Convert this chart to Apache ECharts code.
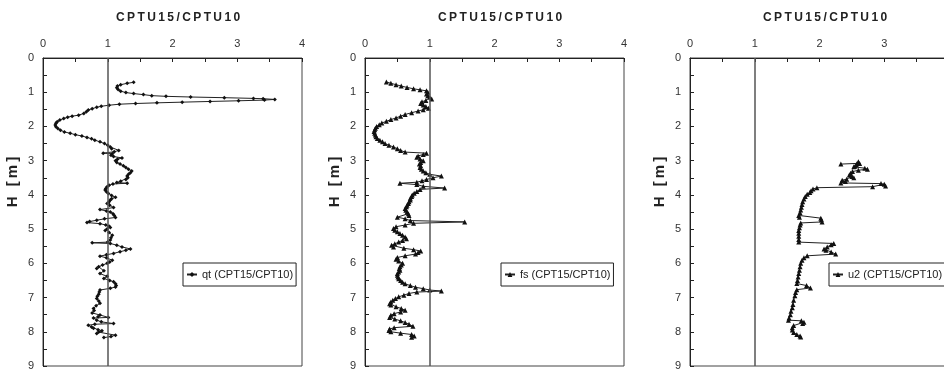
<!DOCTYPE html>
<html>
<head>
<meta charset="utf-8">
<script src="https://cdn.jsdelivr.net/npm/echarts@6/dist/echarts.min.js"></script>
<style>
html,body{margin:0;padding:0;background:#fff;}
#chart{width:944px;height:370px;}
</style>
</head>
<body>
<div id="chart"></div>
<script>
// depth [m] and ratio values
var qtDepth = [0.71,0.74,0.78,0.82,0.87,0.92,0.97,1.01,1.04,1.07,1.10,1.12,1.14,1.16,1.18,1.19,1.21,1.23,1.25,1.27,1.29,1.31,1.33,1.35,1.38,1.41,1.44,1.48,1.52,1.57,1.62,1.67,1.70,1.73,1.77,1.81,1.86,1.91,1.96,2.01,2.06,2.11,2.16,2.20,2.24,2.28,2.32,2.36,2.40,2.45,2.50,2.55,2.60,2.65,2.70,2.74,2.78,2.80,2.84,2.88,2.92,2.96,3.00,3.05,3.10,3.15,3.20,3.25,3.30,3.35,3.40,3.45,3.50,3.55,3.60,3.64,3.66,3.68,3.72,3.76,3.81,3.86,3.91,3.96,4.02,4.07,4.11,4.15,4.20,4.25,4.30,4.37,4.43,4.47,4.50,4.55,4.60,4.66,4.70,4.74,4.78,4.81,4.84,4.88,4.92,4.95,5.00,5.04,5.10,5.18,5.25,5.32,5.38,5.40,5.42,5.47,5.52,5.58,5.62,5.66,5.71,5.75,5.79,5.84,5.91,5.96,6.00,6.05,6.10,6.15,6.22,6.30,6.38,6.44,6.50,6.54,6.60,6.65,6.69,6.73,6.78,6.84,6.90,6.96,7.03,7.10,7.17,7.24,7.32,7.38,7.45,7.51,7.56,7.58,7.60,7.66,7.71,7.76,7.78,7.81,7.86,7.90,7.94,7.97,8.01,8.05,8.10,8.14,8.17];
var qtValue = [1.40,1.30,1.20,1.15,1.14,1.16,1.20,1.28,1.40,1.55,1.68,1.90,2.28,2.80,3.25,3.40,3.58,3.42,3.02,2.58,2.15,1.76,1.43,1.18,1.02,0.90,0.83,0.76,0.70,0.67,0.63,0.55,0.45,0.38,0.32,0.26,0.22,0.20,0.19,0.20,0.23,0.27,0.33,0.42,0.50,0.60,0.68,0.75,0.80,0.88,0.95,1.00,1.04,1.06,1.17,1.10,0.93,1.07,1.05,1.09,1.22,1.15,1.12,1.14,1.19,1.24,1.28,1.32,1.37,1.35,1.32,1.30,1.31,1.28,1.20,1.14,1.30,1.08,1.02,0.99,0.97,0.96,0.98,1.01,1.06,1.12,1.06,1.04,1.02,0.99,1.03,1.09,0.88,0.98,1.04,1.08,1.10,1.12,0.95,0.83,0.72,0.68,0.88,0.97,1.02,1.04,0.99,0.96,1.02,1.07,1.05,1.04,1.00,0.76,1.04,1.14,1.22,1.35,1.28,1.19,1.09,0.98,0.88,0.98,1.07,1.03,0.99,0.92,0.86,0.83,0.94,0.88,0.99,0.94,1.03,1.09,1.12,1.13,1.12,1.04,0.88,0.87,0.86,0.84,0.83,0.86,0.88,0.82,0.78,0.79,0.76,0.88,0.85,1.01,0.78,0.83,0.90,1.09,0.80,0.70,0.75,0.78,0.85,0.91,0.86,0.83,1.12,1.05,0.94];

var fsDepth = [0.70,0.74,0.78,0.82,0.86,0.90,0.93,0.96,1.00,1.05,1.10,1.15,1.20,1.24,1.28,1.33,1.37,1.42,1.47,1.51,1.55,1.60,1.65,1.70,1.75,1.80,1.85,1.90,1.95,2.00,2.05,2.10,2.15,2.20,2.25,2.30,2.35,2.40,2.45,2.50,2.55,2.60,2.65,2.70,2.75,2.78,2.82,2.86,2.90,2.95,3.00,3.05,3.10,3.15,3.20,3.25,3.30,3.35,3.40,3.45,3.50,3.55,3.59,3.63,3.66,3.70,3.75,3.80,3.84,3.90,3.95,4.00,4.05,4.10,4.15,4.20,4.25,4.30,4.35,4.40,4.45,4.50,4.55,4.60,4.65,4.70,4.75,4.79,4.83,4.88,4.93,4.98,5.03,5.08,5.13,5.18,5.23,5.28,5.33,5.38,5.43,5.47,5.52,5.56,5.60,5.64,5.68,5.73,5.78,5.83,5.88,5.93,6.00,6.05,6.10,6.15,6.20,6.25,6.30,6.35,6.40,6.45,6.50,6.55,6.60,6.65,6.70,6.74,6.78,6.81,6.84,6.88,6.93,6.98,7.03,7.08,7.13,7.18,7.22,7.27,7.32,7.37,7.42,7.47,7.52,7.58,7.63,7.68,7.73,7.78,7.84,7.88,7.92,7.96,8.00,8.04,8.08,8.12,8.16];
var fsValue = [0.33,0.40,0.48,0.56,0.65,0.75,0.85,0.95,0.97,0.95,0.97,1.00,1.03,0.94,0.88,0.86,0.90,0.94,0.98,0.90,0.82,0.72,0.62,0.55,0.48,0.40,0.33,0.26,0.22,0.18,0.16,0.15,0.14,0.15,0.16,0.17,0.19,0.23,0.27,0.31,0.37,0.44,0.50,0.55,0.62,0.95,0.90,0.82,0.80,0.85,0.90,0.86,0.84,0.86,0.85,0.87,0.90,0.94,1.00,1.18,1.05,0.95,0.88,0.80,0.54,0.80,0.90,1.23,0.85,0.80,0.76,0.73,0.72,0.70,0.70,0.68,0.67,0.65,0.64,0.62,0.63,0.65,0.67,0.68,0.50,0.62,0.70,1.54,0.75,0.62,0.48,0.44,0.46,0.50,0.54,0.58,0.62,0.64,0.58,0.52,0.46,0.41,0.44,0.60,0.75,0.86,0.82,0.78,0.62,0.50,0.48,0.52,0.58,0.56,0.54,0.53,0.54,0.52,0.50,0.50,0.51,0.52,0.55,0.58,0.62,0.70,0.78,0.90,1.00,1.18,0.80,0.68,0.60,0.52,0.47,0.43,0.40,0.38,0.40,0.48,0.56,0.62,0.55,0.45,0.40,0.38,0.46,0.55,0.62,0.68,0.74,0.45,0.38,0.37,0.40,0.55,0.72,0.76,0.72];

var u2Depth = [3.10,3.08,3.03,3.08,3.12,3.16,3.18,3.22,3.25,3.28,3.32,3.37,3.42,3.46,3.50,3.54,3.57,3.61,3.65,3.67,3.69,3.74,3.76,3.79,3.83,3.88,3.93,3.98,4.05,4.12,4.20,4.28,4.36,4.44,4.52,4.60,4.65,4.68,4.73,4.79,4.82,4.88,4.96,5.04,5.12,5.21,5.30,5.38,5.42,5.46,5.52,5.58,5.62,5.67,5.73,5.78,5.84,5.91,6.00,6.10,6.20,6.30,6.40,6.50,6.59,6.65,6.72,6.77,6.85,6.95,7.08,7.20,7.30,7.40,7.50,7.60,7.66,7.68,7.72,7.76,7.82,7.88,7.95,8.02,8.08,8.12,8.15];
var u2Value = [2.33,2.58,2.60,2.62,2.57,2.55,2.53,2.70,2.74,2.60,2.51,2.48,2.46,2.50,2.53,2.42,2.35,2.40,2.33,2.95,3.00,3.02,2.82,1.96,1.90,1.87,1.85,1.81,1.78,1.76,1.74,1.73,1.72,1.71,1.70,1.68,1.69,2.02,2.03,2.04,1.71,1.70,1.69,1.68,1.68,1.68,1.68,1.68,2.22,2.18,2.12,2.07,2.10,2.18,2.25,1.81,1.76,1.73,1.71,1.70,1.69,1.68,1.67,1.66,1.65,1.80,1.86,1.65,1.63,1.62,1.60,1.59,1.58,1.56,1.55,1.53,1.52,1.72,1.76,1.74,1.60,1.58,1.58,1.60,1.65,1.70,1.71];

var panelTitle = 'CPTU15/CPTU10';
var seriesNames = ['qt (CPT15/CPT10)', 'fs (CPT15/CPT10)', 'u2 (CPT15/CPT10)'];
var xTicks = [0, 1, 2, 3, 4];
var yTicks = [0, 1, 2, 3, 4, 5, 6, 7, 8, 9];
var yName = 'H [m]';

function pairs(vals, depths) {
  var out = [];
  for (var i = 0; i < vals.length; i++) out.push([vals[i], depths[i]]);
  return out;
}
function spaced(s, sp) { return s.split('').join(sp); }

var FONT = '"Liberation Sans", Arial, sans-serif';
var lefts = [43, 365, 690];
var gridW = 259;
var symbols = ['diamond', 'triangle', 'triangle'];
var symSizes = [4, 5, 5];
var datasets = [pairs(qtValue, qtDepth), pairs(fsValue, fsDepth), pairs(u2Value, u2Depth)];
var legendLefts = [183, 501, 829];

var option = {
  animation: false,
  backgroundColor: '#fff',
  title: [], grid: [], xAxis: [], yAxis: [], series: [], legend: []
};

for (var p = 0; p < 3; p++) {
  option.title.push({
    text: spaced(panelTitle, '\u2009'),
    left: lefts[p] + 73, top: 12, padding: 0,
    textStyle: {fontFamily: FONT, fontSize: 12, fontWeight: 'bold', color: '#222'}
  });
  option.grid.push({
    left: lefts[p], top: 58, width: gridW, height: 308,
    outerBoundsMode: 'none', containLabel: false,
    show: true, borderColor: '#444', borderWidth: 1, backgroundColor: 'transparent'
  });
  option.xAxis.push({
    gridIndex: p, type: 'value', position: 'top',
    min: xTicks[0], max: xTicks[xTicks.length - 1], interval: 0.5,
    axisLine: {show: true, lineStyle: {color: '#222', width: 1}},
    axisTick: {show: true, inside: true, length: 4, lineStyle: {color: '#222'}},
    axisLabel: {
      margin: 9, color: '#333', fontFamily: FONT, fontSize: 11,
      formatter: function (v) { return xTicks.indexOf(v) >= 0 ? String(v) : ''; }
    },
    splitLine: {show: false}
  });
  option.yAxis.push({
    gridIndex: p, type: 'value', inverse: true,
    min: yTicks[0], max: yTicks[yTicks.length - 1], interval: 0.5,
    name: spaced(yName, '\u2009'), nameLocation: 'middle', nameGap: 23, nameRotate: 90,
    nameTextStyle: {fontFamily: FONT, fontSize: 15, fontWeight: 'bold', color: '#222', padding: [0, 0, 0, 60]},
    axisLine: {show: true, lineStyle: {color: '#222', width: 1}},
    axisTick: {show: true, inside: true, length: 4, lineStyle: {color: '#222'}},
    axisLabel: {
      margin: 9, color: '#333', fontFamily: FONT, fontSize: 11,
      formatter: function (v) { return yTicks.indexOf(v) >= 0 ? String(v) : ''; }
    },
    splitLine: {show: false}
  });
  option.series.push({
    name: seriesNames[p], type: 'line', xAxisIndex: p, yAxisIndex: p,
    data: datasets[p], symbol: symbols[p], symbolSize: symSizes[p], showSymbol: true,
    color: '#111', lineStyle: {color: '#222', width: 1}, itemStyle: {color: '#111'},
    markLine: {
      silent: true, symbol: 'none', label: {show: false},
      lineStyle: {color: '#555', width: 1.5, type: 'solid'},
      data: [{xAxis: 1}]
    }
  });
  option.legend.push({
    data: [seriesNames[p]], left: legendLefts[p], top: 263,
    orient: 'vertical', padding: [6, 3, 6, 3],
    borderColor: '#222', borderWidth: 1, backgroundColor: '#fff',
    itemWidth: 10, itemHeight: 6,
    textStyle: {fontFamily: FONT, fontSize: 11, color: '#222'}
  });
}

var chart = echarts.init(document.getElementById('chart'), null, {renderer: 'canvas'});
chart.setOption(option);
</script>
</body>
</html>
